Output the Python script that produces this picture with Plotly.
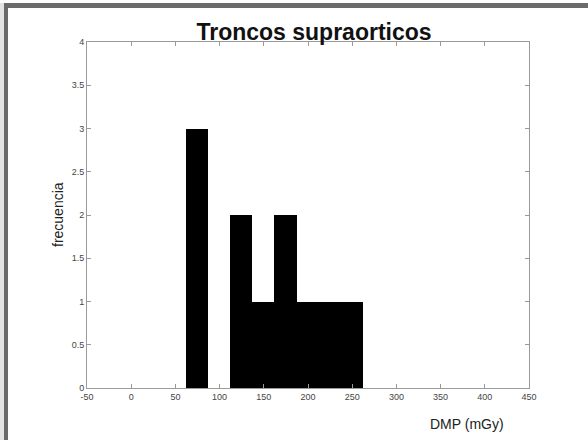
import plotly.graph_objects as go

# Data
bin_edges = [62, 87, 112, 137, 162, 187, 212, 237, 262]
counts = [3, 0, 2, 1, 2, 1, 1, 1]
x_ticks = [-50, 0, 50, 100, 150, 200, 250, 300, 350, 400, 450]
y_ticks = [0, 0.5, 1, 1.5, 2, 2.5, 3, 3.5, 4]
y_tick_labels = ["0", "0.5", "1", "1.5", "2", "2.5", "3", "3.5", "4"]
title_text = "Troncos supraorticos"
x_label = "DMP (mGy)"
y_label = "frecuencia"

centers = [(a + b) / 2 for a, b in zip(bin_edges[:-1], bin_edges[1:])]
widths = [b - a for a, b in zip(bin_edges[:-1], bin_edges[1:])]

fig = go.Figure()
fig.add_trace(go.Bar(
    x=centers, y=counts, width=widths,
    marker=dict(color="#000000", line=dict(width=0)),
    showlegend=False,
))

axis_common = dict(
    showline=True, linecolor="#9a9a9a", linewidth=1, mirror="ticks",
    ticks="inside", ticklen=4, tickcolor="#9a9a9a", tickwidth=1,
    showgrid=False, zeroline=False,
    tickfont=dict(family="Liberation Sans, Arial, sans-serif", size=9, color="#444444"),
)

def px_x(p):
    return (p - 87) / 442.0

def px_y(p):
    return (388 - p) / 346.0

fig.update_layout(
    width=588, height=440,
    margin=dict(l=87, r=59, t=42, b=52),
    paper_bgcolor="#6b6b6b", plot_bgcolor="white",
    bargap=0,
    title=dict(text="<b>" + title_text + "</b>", x=(314) / 588, xanchor="center",
               y=1 - 32 / 440, yanchor="middle",
               font=dict(family="Liberation Sans, Arial, sans-serif", size=23, color="#111111")),
    xaxis=dict(range=[-50, 450], tickvals=x_ticks, ticktext=[str(v) for v in x_ticks], **axis_common),
    yaxis=dict(range=[0, 4], tickvals=y_ticks, ticktext=y_tick_labels, **axis_common),
    annotations=[
        dict(text=x_label, xref="paper", yref="paper", x=px_x(467), y=px_y(424),
             xanchor="center", yanchor="middle", showarrow=False,
             font=dict(family="Liberation Sans, Arial, sans-serif", size=14, color="#222222")),
        dict(text=y_label, xref="paper", yref="paper", x=px_x(58), y=0.5,
             xanchor="center", yanchor="middle", showarrow=False, textangle=-90,
             font=dict(family="Liberation Sans, Arial, sans-serif", size=14, color="#222222")),
    ],
    shapes=[
        # white page inside the gray frame (frame = paper background on top/left)
        dict(type="rect", xref="paper", yref="paper",
             x0=px_x(8), x1=px_x(590), y0=px_y(442), y1=px_y(8),
             fillcolor="white", line=dict(width=0), layer="below"),
        # white strip above the top band
        dict(type="rect", xref="paper", yref="paper",
             x0=px_x(-2), x1=px_x(590), y0=px_y(3), y1=px_y(-2),
             fillcolor="white", line=dict(width=0), layer="below"),
        # light strip left of the left band
        dict(type="rect", xref="paper", yref="paper",
             x0=px_x(-2), x1=px_x(4), y0=px_y(442), y1=px_y(3),
             fillcolor="#e4e4e4", line=dict(width=0), layer="below"),
    ],
)

fig.write_html(
    "out.html",
    config={"displayModeBar": False},
    post_script="document.body.style.margin='0';document.body.style.overflow='hidden';window.scrollTo(0,0);",
)
